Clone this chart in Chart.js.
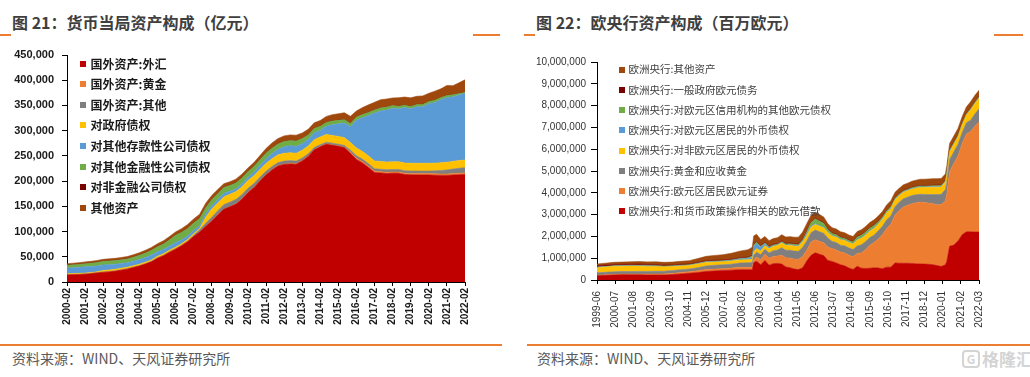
<!DOCTYPE html>
<html>
<head>
<meta charset="utf-8">
<script src="https://cdn.jsdelivr.net/npm/chart.js@4/dist/chart.umd.min.js"></script>
<style>
  html,body{margin:0;padding:0;background:#fff;}
  body{width:1030px;height:377px;position:relative;overflow:hidden;font-family:"Noto Sans CJK SC","Noto Sans",sans-serif;}
  .abs{position:absolute;white-space:nowrap;line-height:1;}
  .title{font-size:16px;font-weight:bold;color:#3f3f3f;}
  .oline{position:absolute;height:2px;background:#ED7D31;}
  .src{font-size:14px;color:#595959;}
  .lg{position:absolute;white-space:nowrap;line-height:1;}
  .lg i{position:absolute;display:block;}
  canvas{position:absolute;}
</style>
</head>
<body>
<div class="abs title" style="left:12px;top:14px;">图 21：货币当局资产构成（亿元）</div>
<div class="abs title" style="left:536px;top:14px;">图 22：欧央行资产构成（百万欧元）</div>
<div class="oline" style="left:0;top:34px;width:11px;"></div>
<div class="oline" style="left:473px;top:34px;width:27px;"></div>
<div class="oline" style="left:524px;top:34px;width:11px;"></div>
<div class="oline" style="left:994px;top:34px;width:29px;"></div>

<canvas id="c1" width="500" height="300" style="left:0;top:40px;"></canvas>
<canvas id="c2" width="510" height="300" style="left:520px;top:40px;"></canvas>
<div id="lg1"></div>
<div id="lg2"></div>

<div class="oline" style="left:0;top:344px;width:502px;"></div>
<div class="oline" style="left:527px;top:344px;width:503px;"></div>
<div class="abs src" style="left:12px;top:351px;">资料来源：WIND、天风证券研究所</div>
<div class="abs src" style="left:537px;top:351px;">资料来源：WIND、天风证券研究所</div>
<div class="abs" style="left:962px;top:350px;font-size:17px;color:#d4d4d4;font-weight:bold;">
  <span style="display:inline-block;border:2px solid #d4d4d4;border-radius:4px;width:14px;height:14px;font-size:12px;text-align:center;line-height:14px;vertical-align:top;margin-right:2px;">G</span>格隆汇
</div>

<script>
// ---------------- Left chart: 货币当局资产构成（亿元） ----------------
const lDates = ['2000-02','2000-06','2000-10','2001-02','2001-06','2001-10','2002-02','2002-06','2002-10','2003-02','2003-06','2003-10','2004-02','2004-06','2004-10','2005-02','2005-06','2005-10','2006-02','2006-06','2006-10','2007-02','2007-06','2007-10','2008-02','2008-06','2008-10','2009-02','2009-06','2009-10','2010-02','2010-06','2010-10','2011-02','2011-06','2011-10','2012-02','2012-06','2012-10','2013-02','2013-06','2013-10','2014-02','2014-06','2014-10','2015-02','2015-06','2015-10','2016-02','2016-06','2016-10','2017-02','2017-06','2017-10','2018-02','2018-06','2018-10','2019-02','2019-06','2019-10','2020-02','2020-06','2020-10','2021-02','2021-06','2021-10','2022-02'];
const lTickLabels = ['2000-02','2001-02','2002-02','2003-02','2004-02','2005-02','2006-02','2007-02','2008-02','2009-02','2010-02','2011-02','2012-02','2013-02','2014-02','2015-02','2016-02','2017-02','2018-02','2019-02','2020-02','2021-02','2022-02'];
const lSeriesNames = ['国外资产:外汇','国外资产:黄金','国外资产:其他','对政府债权','对其他存款性公司债权','对其他金融性公司债权','对非金融公司债权','其他资产'];
const lFX = [14000,14300,14600,15200,16300,17800,19000,20000,21300,23500,25500,28500,31500,35500,40000,47000,52000,59000,65000,72000,80000,90000,99000,110000,121000,133000,144000,149000,154000,164000,177000,187000,200000,212000,222000,230000,233000,234000,233500,240000,249000,262000,268000,273000,271000,269000,266000,255000,243000,236000,227000,217000,216000,215000,215500,215500,213000,212400,212300,212100,212200,211500,211300,211300,212000,212600,213200];
const lGold = [337,337,337,337,337,337,337,337,337,337,337,337,337,337,337,337,337,337,337,337,337,337,337,337,337,337,337,337,670,670,670,670,670,670,670,670,670,670,670,670,670,670,670,670,670,670,670,1800,2330,2400,2540,2541,2541,2541,2541,2541,2541,2700,2850,2856,2856,2856,2856,2856,2856,2856,2856];
const lOtherFA = [600,600,600,600,600,600,600,600,600,600,600,600,600,600,600,700,800,800,800,800,800,2500,4000,6000,7000,8000,9000,9000,9000,8500,8000,7500,7000,7000,6500,6000,6000,6000,5500,5000,4500,4000,3500,3500,3500,3500,4000,4500,5000,5000,5000,5000,5000,5000,5000,5000,5000,5000,5000,5000,5000,6000,7000,8000,9000,10000,10500];
const lGov = [1583,1583,1583,1583,1583,1583,2864,2864,2864,2901,2901,2901,2901,2901,2901,2901,2901,2901,2901,2901,2901,2901,2901,12000,16300,15400,15400,15400,15400,15400,15400,15400,15400,15400,15400,15400,15400,15400,15400,15400,15400,15400,15400,15400,15400,15300,15300,15300,15300,15300,15300,15300,15300,15250,15250,15250,15250,15250,15250,15250,15250,15250,15250,15250,15250,15250,15250];
const lODC = [11000,11500,12000,12500,12000,11500,11000,10500,10000,9500,9000,9000,9500,9000,9500,9000,8500,8000,9000,7500,7000,6500,6000,6500,6500,6500,7000,6000,5500,6000,6000,7000,8000,9000,10000,11000,13000,14000,14000,13000,13000,13500,13000,16000,21000,25000,29000,31000,55000,67000,80000,95000,100000,103000,106000,105000,110000,108000,112000,112000,118000,120000,125000,128000,128000,130000,132000];
const lOFC = [5500,5700,5800,6000,6500,7000,7200,7400,7600,7300,7500,7800,8000,9000,9500,10000,11000,12500,14500,15000,15000,14500,13500,12500,12000,11800,11700,11700,11600,11500,11500,11400,11300,11300,10800,10600,10500,10400,10300,10200,9000,8900,8000,7600,7500,7000,6900,6800,6500,6400,6300,6300,6300,5900,5400,5000,4700,4600,4600,4600,4600,4600,4400,4200,4000,3000,2000];
const lNonFin = [250,250,250,250,250,250,250,250,250,250,250,250,250,250,250,250,250,250,250,250,250,250,250,250,250,250,250,250,250,250,250,250,250,250,250,250,100,100,100,100,100,100,100,100,100,100,100,100,100,100,100,100,100,100,100,100,100,100,100,100,100,100,100,100,100,100,100];
const lOther = [3000,3000,3200,3400,3500,3600,3700,3900,4000,4200,4400,4600,5000,5200,5400,5600,6000,6300,6500,7000,7500,8000,8500,8500,8000,8000,7000,7000,7500,7500,7000,7500,8000,9000,10000,10500,11000,11000,11500,11000,11000,11000,11500,12000,12500,13000,13500,14000,12000,13500,15000,15000,16000,16000,15000,17000,16000,17000,16000,17000,16000,18000,17000,20000,18000,21000,25000];
const lYTicks = {min:0, max:450000, step:50000};

// ---------------- Right chart: 欧央行资产构成（百万欧元） ----------------
const rDates = ['1999-06','1999-12','2000-06','2000-12','2001-06','2001-12','2002-06','2002-12','2003-06','2003-12','2004-06','2004-12','2005-06','2005-12','2006-06','2006-12','2007-06','2007-12','2008-06','2008-09','2008-10','2008-12','2009-03','2009-06','2009-09','2009-12','2010-03','2010-06','2010-09','2010-12','2011-03','2011-06','2011-09','2011-12','2012-03','2012-06','2012-09','2012-12','2013-03','2013-06','2013-09','2013-12','2014-03','2014-06','2014-09','2014-12','2015-03','2015-06','2015-09','2015-12','2016-03','2016-06','2016-09','2016-12','2017-03','2017-06','2017-09','2017-12','2018-03','2018-06','2018-09','2018-12','2019-03','2019-06','2019-09','2019-12','2020-03','2020-04','2020-06','2020-09','2020-12','2021-03','2021-06','2021-09','2021-12','2022-03'];
const rTickLabels = ['1999-06','2000-07','2001-08','2002-09','2003-10','2004-11','2005-12','2007-01','2008-02','2009-03','2010-04','2011-05','2012-06','2013-07','2014-08','2015-09','2016-10','2017-11','2018-12','2020-01','2021-02','2022-03'];
const rSeriesNames = ['欧洲央行:和货币政策操作相关的欧元借款','欧洲央行:欧元区居民欧元证券','欧洲央行:黄金和应收黄金','欧洲央行:对非欧元区居民的外币债权','欧洲央行:对欧元区居民的外币债权','欧洲央行:对欧元区信用机构的其他欧元债权','欧洲央行:一般政府欧元债务','欧洲央行:其他资产'];
const rMPO = [190000,215000,230000,245000,240000,240000,230000,230000,225000,250000,280000,310000,340000,390000,410000,440000,450000,470000,470000,470000,800000,860000,700000,900000,680000,750000,760000,730000,600000,560000,500000,480000,560000,880000,1130000,1250000,1180000,1120000,900000,850000,780000,700000,650000,550000,480000,630000,540000,530000,540000,560000,550000,520000,590000,590000,780000,770000,770000,765000,760000,740000,735000,730000,720000,700000,660000,620000,700000,860000,1550000,1600000,1790000,2080000,2210000,2210000,2200000,2200000];
const rSec = [22000,23000,26000,27000,28000,28000,35000,41000,50000,55000,65000,70000,85000,93000,90000,80000,95000,110000,110000,115000,120000,200000,230000,280000,320000,330000,340000,400000,420000,440000,460000,470000,520000,500000,610000,600000,590000,585000,600000,600000,600000,590000,590000,590000,585000,590000,700000,870000,1050000,1160000,1330000,1550000,1770000,1970000,2200000,2420000,2580000,2660000,2740000,2800000,2840000,2820000,2810000,2800000,2790000,2840000,2930000,3080000,3420000,3740000,3900000,4180000,4490000,4600000,4850000,5050000];
const rGold = [115000,117000,120000,117000,120000,126000,130000,131000,130000,130000,130000,125000,140000,163000,175000,176000,180000,201000,210000,215000,215000,218000,235000,230000,240000,266000,280000,350000,340000,367000,365000,370000,420000,423000,430000,440000,445000,438000,420000,320000,340000,303000,326000,330000,330000,343000,380000,365000,355000,338000,375000,400000,400000,382000,385000,380000,380000,376000,375000,370000,360000,376000,390000,420000,470000,470000,520000,530000,550000,540000,536000,505000,515000,520000,559000,600000];
const rFXNonEA = [240000,245000,250000,245000,250000,245000,230000,220000,200000,180000,170000,160000,170000,160000,150000,145000,145000,140000,140000,150000,160000,160000,165000,165000,195000,195000,200000,215000,220000,225000,225000,225000,240000,245000,255000,260000,250000,250000,250000,245000,245000,250000,245000,250000,255000,270000,290000,290000,290000,300000,300000,310000,310000,330000,320000,300000,290000,290000,290000,300000,310000,320000,330000,340000,340000,340000,345000,360000,350000,350000,350000,355000,350000,470000,480000,490000];
const rFXEA = [15000,15000,17000,17000,20000,25000,20000,20000,20000,18000,18000,17000,22000,24000,25000,25000,25000,40000,55000,110000,230000,230000,170000,90000,45000,32000,28000,28000,26000,27000,27000,27000,40000,95000,45000,40000,35000,30000,30000,28000,27000,26000,25000,27000,28000,28000,30000,32000,32000,30000,30000,29000,28000,27000,26000,25000,25000,25000,26000,26000,25000,25000,24000,24000,25000,25000,30000,55000,50000,25000,24000,24000,23000,22000,22000,22000];
const rOtherCI = [10000,10000,12000,12000,12000,15000,15000,15000,15000,15000,15000,15000,15000,15000,15000,15000,20000,25000,30000,40000,80000,60000,40000,30000,30000,30000,30000,35000,40000,45000,50000,50000,60000,80000,170000,210000,200000,180000,100000,90000,80000,75000,70000,60000,60000,110000,110000,110000,110000,110000,80000,70000,70000,70000,40000,40000,40000,40000,40000,40000,40000,40000,40000,40000,40000,40000,30000,30000,30000,30000,30000,30000,30000,30000,30000,30000];
const rGovDebt = [60000,60000,59000,58000,57000,57000,56000,56000,45000,42000,41000,41000,40000,40000,40000,39000,38000,38000,37000,37000,37000,37000,36000,36000,36000,36000,35000,35000,35000,35000,34000,34000,33000,33000,30000,30000,30000,30000,28000,28000,28000,28000,27000,27000,27000,27000,27000,26000,26000,26000,26000,26000,26000,26000,25000,25000,25000,25000,25000,25000,25000,24000,24000,24000,24000,24000,23000,23000,23000,23000,23000,22000,22000,22000,22000,22000];
const rOther = [80000,85000,95000,100000,105000,110000,115000,120000,125000,130000,140000,150000,170000,200000,220000,240000,270000,300000,340000,370000,380000,330000,280000,270000,260000,260000,270000,280000,290000,290000,300000,310000,330000,340000,300000,280000,270000,260000,250000,240000,240000,240000,235000,230000,230000,230000,230000,235000,235000,235000,240000,240000,245000,245000,250000,250000,255000,260000,270000,280000,285000,290000,295000,300000,300000,300000,290000,290000,290000,295000,300000,300000,300000,300000,300000,290000];
const rYTicks = {min:0, max:10000000, step:1000000};

// ---------------- helpers ----------------
const palette = ['#C00000','#ED7D31','#7F7F7F','#FFC000','#5B9BD5','#70AD47','#7B0000','#9E480E'];
function mIdx(s){ const p = s.split('-'); return (+p[0])*12 + (+p[1]) - 1; }
function buildDatasets(dates, seriesList, names){
  const base = mIdx(dates[0]);
  return seriesList.map((arr, i) => ({
    label: names[i],
    data: dates.map((d, j) => ({x: mIdx(d) - base, y: arr[j]})),
    backgroundColor: palette[i],
    borderColor: palette[i],
    borderWidth: 0.6,
    pointRadius: 0,
    pointHoverRadius: 0,
    tension: 0,
    fill: i === 0 ? 'origin' : '-1'
  }));
}
function tickMap(dates, labels){
  const base = mIdx(dates[0]); const m = {};
  labels.forEach(l => { m[mIdx(l) - base] = l; });
  return v => (m[v] !== undefined ? m[v] : '');
}
Chart.defaults.font.family = '"Liberation Sans", Arial, sans-serif';
Chart.defaults.animation = false;

function makeChart(id, dates, seriesList, names, tickLabels, yT, cfg){
  const base = mIdx(dates[0]);
  const xmax = mIdx(tickLabels[tickLabels.length-1]) - base;
  const step = mIdx(tickLabels[1]) - mIdx(tickLabels[0]);
  return new Chart(document.getElementById(id), {
    type: 'line',
    data: { datasets: buildDatasets(dates, seriesList, names) },
    options: {
      responsive: false, animation: false,
      layout: { padding: { top: cfg.padTop, right: cfg.padRight, left: 0, bottom: 0 } },
      plugins: { legend: { display: false }, tooltip: { enabled: false } },
      elements: { line: { borderJoinStyle: 'round' } },
      scales: {
        x: {
          type: 'linear', min: 0, max: xmax,
          grid: { display: true, drawOnChartArea: false, drawTicks: true, tickLength: cfg.xTickLen, color: '#000' },
          border: { display: true, color: '#000', width: 1 },
          ticks: { stepSize: step, autoSkip: false, maxTicksLimit: 1000, minRotation: 90, maxRotation: 90,
                   font: { size: 10, weight: cfg.xWeight }, color: cfg.tickColor, padding: cfg.xPad,
                   callback: tickMap(dates, tickLabels) },
          afterFit: s => { s.height = cfg.xHeight; }
        },
        y: {
          stacked: true, min: yT.min, max: yT.max,
          grid: { display: true, drawOnChartArea: false, drawTicks: true, tickLength: cfg.yTickLen, color: '#000' },
          border: { display: true, color: '#000', width: 1 },
          ticks: { stepSize: yT.step, autoSkip: false, maxTicksLimit: 1000,
                   font: { size: cfg.ySize, weight: cfg.yWeight }, color: cfg.tickColor, padding: cfg.yPad,
                   callback: v => v.toLocaleString('en-US') },
          afterFit: s => { s.width = cfg.yWidth; }
        }
      }
    }
  });
}

makeChart('c1', lDates, [lFX,lGold,lOtherFA,lGov,lODC,lOFC,lNonFin,lOther], lSeriesNames, lTickLabels, lYTicks,
  { padTop: 15, padRight: 35, xHeight: 58, yWidth: 67, xTickLen: 4, yTickLen: 5, xPad: 2, yPad: 8,
    xWeight: 'bold', yWeight: 'bold', ySize: 11, tickColor: '#1a1a1a' });
makeChart('c2', rDates, [rMPO,rSec,rGold,rFXNonEA,rFXEA,rOtherCI,rGovDebt,rOther], rSeriesNames, rTickLabels, rYTicks,
  { padTop: 22, padRight: 51, xHeight: 60, yWidth: 77, xTickLen: 4, yTickLen: 6, xPad: 7, yPad: 5,
    xWeight: 'normal', yWeight: 'normal', ySize: 10, tickColor: '#333333' });

// ---------------- legends (HTML, inside plot area) ----------------
function legend(hostId, items, colors, opts){
  const host = document.getElementById(hostId);
  items.forEach((t, i) => {
    const d = document.createElement('div');
    d.className = 'lg';
    d.style.left = opts.x + 'px';
    d.style.top = (opts.y + i * opts.dy - opts.size/2) + 'px';
    d.style.fontSize = opts.size + 'px';
    d.style.fontWeight = opts.weight;
    d.style.color = opts.color;
    d.style.paddingLeft = opts.textOff + 'px';
    const sq = document.createElement('i');
    sq.style.left = '0px';
    sq.style.top = ((opts.size - opts.sq)/2) + 'px';
    sq.style.width = opts.sq + 'px';
    sq.style.height = opts.sq + 'px';
    sq.style.background = colors[i];
    d.appendChild(sq);
    d.appendChild(document.createTextNode(t));
    host.appendChild(d);
  });
}
legend('lg1', lSeriesNames, palette,
  { x: 80, y: 63.5, dy: 20.65, size: 12, weight: 'bold', color: '#1a1a1a', textOff: 10.5, sq: 6 });
legend('lg2', rSeriesNames.slice().reverse(), palette.slice().reverse(),
  { x: 619, y: 69.5, dy: 20.25, size: 10.5, weight: 'normal', color: '#404040', textOff: 9.5, sq: 6 });
</script>
</body>
</html>
